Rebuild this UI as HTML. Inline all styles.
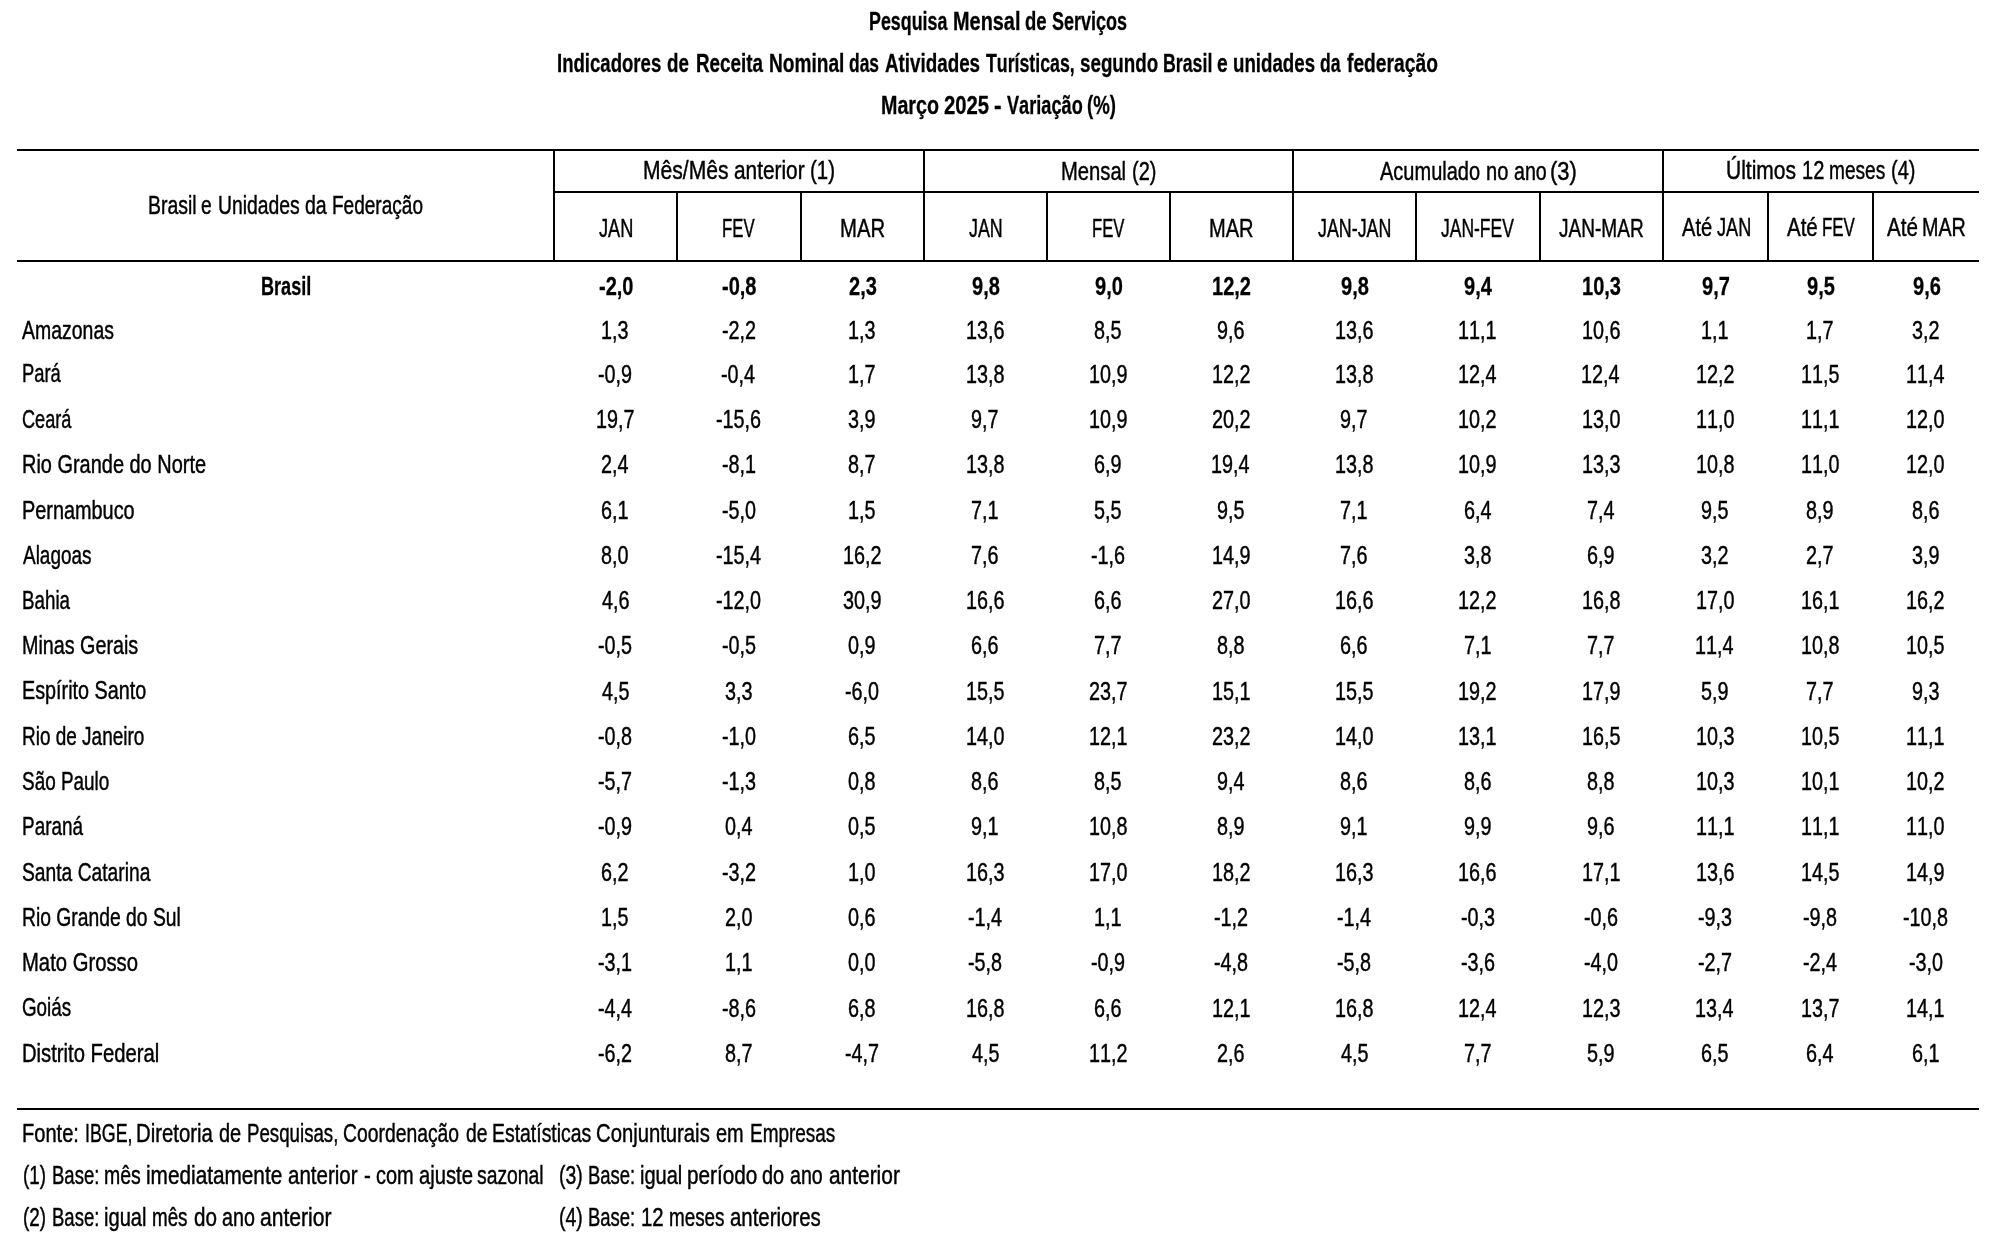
<!DOCTYPE html>
<html><head><meta charset="utf-8"><title>Pesquisa Mensal de Serviços</title><style>
html,body{margin:0;padding:0;background:#fff;width:2012px;height:1242px;overflow:hidden}
body{position:relative}
.r,.b{position:absolute;font-family:"Liberation Sans",sans-serif;font-size:25.5px;line-height:30px;white-space:nowrap;color:#000;transform-origin:0 0;font-kerning:none}
.r{-webkit-text-stroke:0.45px #000}
.b{font-weight:bold;-webkit-text-stroke:0.3px #000}
.ln{position:absolute;background:#000}
#t{position:absolute;left:0;top:0;width:2012px;height:1242px;will-change:transform}
</style></head><body>
<div class="ln" style="left:17px;top:149px;width:1962px;height:2px"></div>
<div class="ln" style="left:553px;top:191px;width:1426px;height:2px"></div>
<div class="ln" style="left:17px;top:260px;width:1962px;height:2px"></div>
<div class="ln" style="left:17px;top:1108px;width:1962px;height:2px"></div>
<div class="ln" style="left:553px;top:149px;width:2px;height:113px"></div>
<div class="ln" style="left:923px;top:149px;width:2px;height:113px"></div>
<div class="ln" style="left:1292px;top:149px;width:2px;height:113px"></div>
<div class="ln" style="left:1662px;top:149px;width:2px;height:113px"></div>
<div class="ln" style="left:676px;top:191px;width:2px;height:71px"></div>
<div class="ln" style="left:800px;top:191px;width:2px;height:71px"></div>
<div class="ln" style="left:1046px;top:191px;width:2px;height:71px"></div>
<div class="ln" style="left:1169px;top:191px;width:2px;height:71px"></div>
<div class="ln" style="left:1415px;top:191px;width:2px;height:71px"></div>
<div class="ln" style="left:1539px;top:191px;width:2px;height:71px"></div>
<div class="ln" style="left:1767px;top:191px;width:2px;height:71px"></div>
<div class="ln" style="left:1872px;top:191px;width:2px;height:71px"></div>
<div id="t">
<div class="b" style="left:869.21px;top:6px;transform:scaleX(0.7000)">Pesquisa</div>
<div class="b" style="left:953.27px;top:6px;transform:scaleX(0.7801)">Mensal</div>
<div class="b" style="left:1024.84px;top:6px;transform:scaleX(0.7256)">de</div>
<div class="b" style="left:1052.18px;top:6px;transform:scaleX(0.7059)">Serviços</div>
<div class="b" style="left:557.16px;top:48px;transform:scaleX(0.7281)">Indicadores</div>
<div class="b" style="left:667.23px;top:48px;transform:scaleX(0.7363)">de</div>
<div class="b" style="left:695.94px;top:48px;transform:scaleX(0.7390)">Receita</div>
<div class="b" style="left:768.62px;top:48px;transform:scaleX(0.7489)">Nominal</div>
<div class="b" style="left:849.39px;top:48px;transform:scaleX(0.6834)">das</div>
<div class="b" style="left:885.03px;top:48px;transform:scaleX(0.7370)">Atividades</div>
<div class="b" style="left:986.30px;top:48px;transform:scaleX(0.6953)">Turísticas,</div>
<div class="b" style="left:1079.94px;top:48px;transform:scaleX(0.7360)">segundo</div>
<div class="b" style="left:1163.31px;top:48px;transform:scaleX(0.6963)">Brasil</div>
<div class="b" style="left:1216.65px;top:48px;transform:scaleX(0.7552)">e</div>
<div class="b" style="left:1233.04px;top:48px;transform:scaleX(0.7328)">unidades</div>
<div class="b" style="left:1320.38px;top:48px;transform:scaleX(0.6892)">da</div>
<div class="b" style="left:1346.87px;top:48px;transform:scaleX(0.7543)">federação</div>
<div class="b" style="left:880.58px;top:90px;transform:scaleX(0.7721)">Março</div>
<div class="b" style="left:943.60px;top:90px;transform:scaleX(0.7962)">2025</div>
<div class="b" style="left:993.81px;top:90px;transform:scaleX(0.8958)">-</div>
<div class="b" style="left:1006.88px;top:90px;transform:scaleX(0.7123)">Variação</div>
<div class="b" style="left:1087.47px;top:90px;transform:scaleX(0.7301)">(%)</div>
<div class="r" style="left:148.21px;top:190px;transform:scaleX(0.7621)">Brasil</div>
<div class="r" style="left:201.49px;top:190px;transform:scaleX(0.7522)">e</div>
<div class="r" style="left:217.51px;top:190px;transform:scaleX(0.7582)">Unidades</div>
<div class="r" style="left:304.98px;top:190px;transform:scaleX(0.7658)">da</div>
<div class="r" style="left:332.34px;top:190px;transform:scaleX(0.7461)">Federação</div>
<div class="r" style="left:643.17px;top:155px;transform:scaleX(0.8265)">Mês/Mês</div>
<div class="r" style="left:734.32px;top:155px;transform:scaleX(0.8169)">anterior</div>
<div class="r" style="left:810.14px;top:155px;transform:scaleX(0.7999)">(1)</div>
<div class="r" style="left:1061.24px;top:156px;transform:scaleX(0.7920)">Mensal</div>
<div class="r" style="left:1131.96px;top:156px;transform:scaleX(0.7821)">(2)</div>
<div class="r" style="left:1380.06px;top:156px;transform:scaleX(0.7845)">Acumulado</div>
<div class="r" style="left:1485.66px;top:156px;transform:scaleX(0.7891)">no</div>
<div class="r" style="left:1514.07px;top:156px;transform:scaleX(0.7700)">ano</div>
<div class="r" style="left:1550.14px;top:156px;transform:scaleX(0.8606)">(3)</div>
<div class="r" style="left:1725.98px;top:155px;transform:scaleX(0.8232)">Últimos</div>
<div class="r" style="left:1801.57px;top:155px;transform:scaleX(0.7876)">12</div>
<div class="r" style="left:1829.43px;top:155px;transform:scaleX(0.7491)">meses</div>
<div class="r" style="left:1891.06px;top:155px;transform:scaleX(0.7821)">(4)</div>
<div class="r" style="left:598.62px;top:213px;transform:scaleX(0.7134)">JAN</div>
<div class="r" style="left:722.33px;top:213px;transform:scaleX(0.6563)">FEV</div>
<div class="r" style="left:839.83px;top:213px;transform:scaleX(0.7960)">MAR</div>
<div class="r" style="left:968.82px;top:213px;transform:scaleX(0.7003)">JAN</div>
<div class="r" style="left:1092.03px;top:213px;transform:scaleX(0.6542)">FEV</div>
<div class="r" style="left:1209.35px;top:213px;transform:scaleX(0.7867)">MAR</div>
<div class="r" style="left:1317.72px;top:213px;transform:scaleX(0.6995)">JAN-JAN</div>
<div class="r" style="left:1440.63px;top:213px;transform:scaleX(0.6856)">JAN-FEV</div>
<div class="r" style="left:1558.60px;top:213px;transform:scaleX(0.7472)">JAN-MAR</div>
<div class="r" style="left:1681.76px;top:212px;transform:scaleX(0.7872)">Até</div>
<div class="r" style="left:1716.72px;top:212px;transform:scaleX(0.7112)">JAN</div>
<div class="r" style="left:1786.76px;top:212px;transform:scaleX(0.8034)">Até</div>
<div class="r" style="left:1821.71px;top:212px;transform:scaleX(0.6626)">FEV</div>
<div class="r" style="left:1886.76px;top:212px;transform:scaleX(0.8088)">Até</div>
<div class="r" style="left:1922.38px;top:212px;transform:scaleX(0.7735)">MAR</div>
<div class="b" style="left:260.89px;top:271px;transform:scaleX(0.7096)">Brasil</div>
<div class="b" style="left:598.67px;top:271px;transform:scaleX(0.7850)">-2,0</div>
<div class="b" style="left:722.07px;top:271px;transform:scaleX(0.7850)">-0,8</div>
<div class="b" style="left:849.00px;top:271px;transform:scaleX(0.7850)">2,3</div>
<div class="b" style="left:971.95px;top:271px;transform:scaleX(0.7850)">9,8</div>
<div class="b" style="left:1095.05px;top:271px;transform:scaleX(0.7850)">9,0</div>
<div class="b" style="left:1212.19px;top:271px;transform:scaleX(0.7850)">12,2</div>
<div class="b" style="left:1340.95px;top:271px;transform:scaleX(0.7850)">9,8</div>
<div class="b" style="left:1464.19px;top:271px;transform:scaleX(0.7850)">9,4</div>
<div class="b" style="left:1582.15px;top:271px;transform:scaleX(0.7850)">10,3</div>
<div class="b" style="left:1702.08px;top:271px;transform:scaleX(0.7850)">9,7</div>
<div class="b" style="left:1806.92px;top:271px;transform:scaleX(0.7850)">9,5</div>
<div class="b" style="left:1912.50px;top:271px;transform:scaleX(0.7850)">9,6</div>
<div class="r" style="left:22.36px;top:315px;transform:scaleX(0.7631)">Amazonas</div>
<div class="r" style="left:601.05px;top:315px;transform:scaleX(0.7750)">1,3</div>
<div class="r" style="left:721.63px;top:315px;transform:scaleX(0.7750)">-2,2</div>
<div class="r" style="left:848.05px;top:315px;transform:scaleX(0.7750)">1,3</div>
<div class="r" style="left:965.55px;top:315px;transform:scaleX(0.7750)">13,6</div>
<div class="r" style="left:1094.35px;top:315px;transform:scaleX(0.7750)">8,5</div>
<div class="r" style="left:1217.33px;top:315px;transform:scaleX(0.7750)">9,6</div>
<div class="r" style="left:1334.55px;top:315px;transform:scaleX(0.7750)">13,6</div>
<div class="r" style="left:1458.10px;top:315px;transform:scaleX(0.7750)">11,1</div>
<div class="r" style="left:1581.55px;top:315px;transform:scaleX(0.7750)">10,6</div>
<div class="r" style="left:1701.09px;top:315px;transform:scaleX(0.7750)">1,1</div>
<div class="r" style="left:1806.11px;top:315px;transform:scaleX(0.7750)">1,7</div>
<div class="r" style="left:1911.98px;top:315px;transform:scaleX(0.7750)">3,2</div>
<div class="r" style="left:21.79px;top:358px;transform:scaleX(0.7205)">Pará</div>
<div class="r" style="left:598.10px;top:359px;transform:scaleX(0.7750)">-0,9</div>
<div class="r" style="left:721.42px;top:359px;transform:scaleX(0.7750)">-0,4</div>
<div class="r" style="left:848.11px;top:359px;transform:scaleX(0.7750)">1,7</div>
<div class="r" style="left:965.54px;top:359px;transform:scaleX(0.7750)">13,8</div>
<div class="r" style="left:1088.58px;top:359px;transform:scaleX(0.7750)">10,9</div>
<div class="r" style="left:1211.61px;top:359px;transform:scaleX(0.7750)">12,2</div>
<div class="r" style="left:1334.54px;top:359px;transform:scaleX(0.7750)">13,8</div>
<div class="r" style="left:1457.91px;top:359px;transform:scaleX(0.7750)">12,4</div>
<div class="r" style="left:1581.41px;top:359px;transform:scaleX(0.7750)">12,4</div>
<div class="r" style="left:1695.61px;top:359px;transform:scaleX(0.7750)">12,2</div>
<div class="r" style="left:1800.53px;top:359px;transform:scaleX(0.7750)">11,5</div>
<div class="r" style="left:1905.91px;top:359px;transform:scaleX(0.7750)">11,4</div>
<div class="r" style="left:22.38px;top:404px;transform:scaleX(0.7116)">Ceará</div>
<div class="r" style="left:595.61px;top:404px;transform:scaleX(0.7750)">19,7</div>
<div class="r" style="left:716.07px;top:404px;transform:scaleX(0.7750)">-15,6</div>
<div class="r" style="left:848.46px;top:404px;transform:scaleX(0.7750)">3,9</div>
<div class="r" style="left:971.40px;top:404px;transform:scaleX(0.7750)">9,7</div>
<div class="r" style="left:1088.58px;top:404px;transform:scaleX(0.7750)">10,9</div>
<div class="r" style="left:1211.87px;top:404px;transform:scaleX(0.7750)">20,2</div>
<div class="r" style="left:1340.40px;top:404px;transform:scaleX(0.7750)">9,7</div>
<div class="r" style="left:1458.11px;top:404px;transform:scaleX(0.7750)">10,2</div>
<div class="r" style="left:1581.50px;top:404px;transform:scaleX(0.7750)">13,0</div>
<div class="r" style="left:1695.50px;top:404px;transform:scaleX(0.7750)">11,0</div>
<div class="r" style="left:1800.60px;top:404px;transform:scaleX(0.7750)">11,1</div>
<div class="r" style="left:1906.00px;top:404px;transform:scaleX(0.7750)">12,0</div>
<div class="r" style="left:21.66px;top:449px;transform:scaleX(0.7821)">Rio Grande do Norte</div>
<div class="r" style="left:601.16px;top:449px;transform:scaleX(0.7750)">2,4</div>
<div class="r" style="left:721.62px;top:449px;transform:scaleX(0.7750)">-8,1</div>
<div class="r" style="left:848.43px;top:449px;transform:scaleX(0.7750)">8,7</div>
<div class="r" style="left:965.54px;top:449px;transform:scaleX(0.7750)">13,8</div>
<div class="r" style="left:1094.33px;top:449px;transform:scaleX(0.7750)">6,9</div>
<div class="r" style="left:1211.41px;top:449px;transform:scaleX(0.7750)">19,4</div>
<div class="r" style="left:1334.54px;top:449px;transform:scaleX(0.7750)">13,8</div>
<div class="r" style="left:1458.08px;top:449px;transform:scaleX(0.7750)">10,9</div>
<div class="r" style="left:1581.55px;top:449px;transform:scaleX(0.7750)">13,3</div>
<div class="r" style="left:1695.54px;top:449px;transform:scaleX(0.7750)">10,8</div>
<div class="r" style="left:1800.50px;top:449px;transform:scaleX(0.7750)">11,0</div>
<div class="r" style="left:1906.00px;top:449px;transform:scaleX(0.7750)">12,0</div>
<div class="r" style="left:21.67px;top:495px;transform:scaleX(0.7792)">Pernambuco</div>
<div class="r" style="left:601.34px;top:495px;transform:scaleX(0.7750)">6,1</div>
<div class="r" style="left:721.52px;top:495px;transform:scaleX(0.7750)">-5,0</div>
<div class="r" style="left:848.03px;top:495px;transform:scaleX(0.7750)">1,5</div>
<div class="r" style="left:971.34px;top:495px;transform:scaleX(0.7750)">7,1</div>
<div class="r" style="left:1094.38px;top:495px;transform:scaleX(0.7750)">5,5</div>
<div class="r" style="left:1217.32px;top:495px;transform:scaleX(0.7750)">9,5</div>
<div class="r" style="left:1340.34px;top:495px;transform:scaleX(0.7750)">7,1</div>
<div class="r" style="left:1463.65px;top:495px;transform:scaleX(0.7750)">6,4</div>
<div class="r" style="left:1587.15px;top:495px;transform:scaleX(0.7750)">7,4</div>
<div class="r" style="left:1701.32px;top:495px;transform:scaleX(0.7750)">9,5</div>
<div class="r" style="left:1806.40px;top:495px;transform:scaleX(0.7750)">8,9</div>
<div class="r" style="left:1911.87px;top:495px;transform:scaleX(0.7750)">8,6</div>
<div class="r" style="left:22.56px;top:540px;transform:scaleX(0.7436)">Alagoas</div>
<div class="r" style="left:601.32px;top:540px;transform:scaleX(0.7750)">8,0</div>
<div class="r" style="left:715.93px;top:540px;transform:scaleX(0.7750)">-15,4</div>
<div class="r" style="left:842.61px;top:540px;transform:scaleX(0.7750)">16,2</div>
<div class="r" style="left:971.29px;top:540px;transform:scaleX(0.7750)">7,6</div>
<div class="r" style="left:1091.07px;top:540px;transform:scaleX(0.7750)">-1,6</div>
<div class="r" style="left:1211.58px;top:540px;transform:scaleX(0.7750)">14,9</div>
<div class="r" style="left:1340.29px;top:540px;transform:scaleX(0.7750)">7,6</div>
<div class="r" style="left:1463.92px;top:540px;transform:scaleX(0.7750)">3,8</div>
<div class="r" style="left:1587.33px;top:540px;transform:scaleX(0.7750)">6,9</div>
<div class="r" style="left:1701.48px;top:540px;transform:scaleX(0.7750)">3,2</div>
<div class="r" style="left:1806.36px;top:540px;transform:scaleX(0.7750)">2,7</div>
<div class="r" style="left:1911.96px;top:540px;transform:scaleX(0.7750)">3,9</div>
<div class="r" style="left:21.76px;top:585px;transform:scaleX(0.7366)">Bahia</div>
<div class="r" style="left:601.57px;top:585px;transform:scaleX(0.7750)">4,6</div>
<div class="r" style="left:716.02px;top:585px;transform:scaleX(0.7750)">-12,0</div>
<div class="r" style="left:842.96px;top:585px;transform:scaleX(0.7750)">30,9</div>
<div class="r" style="left:965.55px;top:585px;transform:scaleX(0.7750)">16,6</div>
<div class="r" style="left:1094.30px;top:585px;transform:scaleX(0.7750)">6,6</div>
<div class="r" style="left:1211.76px;top:585px;transform:scaleX(0.7750)">27,0</div>
<div class="r" style="left:1334.55px;top:585px;transform:scaleX(0.7750)">16,6</div>
<div class="r" style="left:1458.11px;top:585px;transform:scaleX(0.7750)">12,2</div>
<div class="r" style="left:1581.54px;top:585px;transform:scaleX(0.7750)">16,8</div>
<div class="r" style="left:1695.50px;top:585px;transform:scaleX(0.7750)">17,0</div>
<div class="r" style="left:1800.60px;top:585px;transform:scaleX(0.7750)">16,1</div>
<div class="r" style="left:1906.11px;top:585px;transform:scaleX(0.7750)">16,2</div>
<div class="r" style="left:21.68px;top:630px;transform:scaleX(0.7738)">Minas Gerais</div>
<div class="r" style="left:598.05px;top:630px;transform:scaleX(0.7750)">-0,5</div>
<div class="r" style="left:721.55px;top:630px;transform:scaleX(0.7750)">-0,5</div>
<div class="r" style="left:848.45px;top:630px;transform:scaleX(0.7750)">0,9</div>
<div class="r" style="left:971.30px;top:630px;transform:scaleX(0.7750)">6,6</div>
<div class="r" style="left:1094.35px;top:630px;transform:scaleX(0.7750)">7,7</div>
<div class="r" style="left:1217.36px;top:630px;transform:scaleX(0.7750)">8,8</div>
<div class="r" style="left:1340.30px;top:630px;transform:scaleX(0.7750)">6,6</div>
<div class="r" style="left:1463.84px;top:630px;transform:scaleX(0.7750)">7,1</div>
<div class="r" style="left:1587.35px;top:630px;transform:scaleX(0.7750)">7,7</div>
<div class="r" style="left:1695.41px;top:630px;transform:scaleX(0.7750)">11,4</div>
<div class="r" style="left:1800.54px;top:630px;transform:scaleX(0.7750)">10,8</div>
<div class="r" style="left:1906.03px;top:630px;transform:scaleX(0.7750)">10,5</div>
<div class="r" style="left:22.08px;top:675px;transform:scaleX(0.7751)">Espírito Santo</div>
<div class="r" style="left:601.55px;top:676px;transform:scaleX(0.7750)">4,5</div>
<div class="r" style="left:724.92px;top:676px;transform:scaleX(0.7750)">3,3</div>
<div class="r" style="left:845.02px;top:676px;transform:scaleX(0.7750)">-6,0</div>
<div class="r" style="left:965.53px;top:676px;transform:scaleX(0.7750)">15,5</div>
<div class="r" style="left:1088.87px;top:676px;transform:scaleX(0.7750)">23,7</div>
<div class="r" style="left:1211.60px;top:676px;transform:scaleX(0.7750)">15,1</div>
<div class="r" style="left:1334.53px;top:676px;transform:scaleX(0.7750)">15,5</div>
<div class="r" style="left:1458.11px;top:676px;transform:scaleX(0.7750)">19,2</div>
<div class="r" style="left:1581.58px;top:676px;transform:scaleX(0.7750)">17,9</div>
<div class="r" style="left:1701.44px;top:676px;transform:scaleX(0.7750)">5,9</div>
<div class="r" style="left:1806.35px;top:676px;transform:scaleX(0.7750)">7,7</div>
<div class="r" style="left:1911.83px;top:676px;transform:scaleX(0.7750)">9,3</div>
<div class="r" style="left:22.14px;top:721px;transform:scaleX(0.7441)">Rio de Janeiro</div>
<div class="r" style="left:598.06px;top:721px;transform:scaleX(0.7750)">-0,8</div>
<div class="r" style="left:721.52px;top:721px;transform:scaleX(0.7750)">-1,0</div>
<div class="r" style="left:848.28px;top:721px;transform:scaleX(0.7750)">6,5</div>
<div class="r" style="left:965.50px;top:721px;transform:scaleX(0.7750)">14,0</div>
<div class="r" style="left:1088.60px;top:721px;transform:scaleX(0.7750)">12,1</div>
<div class="r" style="left:1211.87px;top:721px;transform:scaleX(0.7750)">23,2</div>
<div class="r" style="left:1334.50px;top:721px;transform:scaleX(0.7750)">14,0</div>
<div class="r" style="left:1458.10px;top:721px;transform:scaleX(0.7750)">13,1</div>
<div class="r" style="left:1581.53px;top:721px;transform:scaleX(0.7750)">16,5</div>
<div class="r" style="left:1695.55px;top:721px;transform:scaleX(0.7750)">10,3</div>
<div class="r" style="left:1800.53px;top:721px;transform:scaleX(0.7750)">10,5</div>
<div class="r" style="left:1906.10px;top:721px;transform:scaleX(0.7750)">11,1</div>
<div class="r" style="left:21.74px;top:766px;transform:scaleX(0.7423)">São Paulo</div>
<div class="r" style="left:598.13px;top:766px;transform:scaleX(0.7750)">-5,7</div>
<div class="r" style="left:721.57px;top:766px;transform:scaleX(0.7750)">-1,3</div>
<div class="r" style="left:848.41px;top:766px;transform:scaleX(0.7750)">0,8</div>
<div class="r" style="left:971.37px;top:766px;transform:scaleX(0.7750)">8,6</div>
<div class="r" style="left:1094.35px;top:766px;transform:scaleX(0.7750)">8,5</div>
<div class="r" style="left:1217.19px;top:766px;transform:scaleX(0.7750)">9,4</div>
<div class="r" style="left:1340.37px;top:766px;transform:scaleX(0.7750)">8,6</div>
<div class="r" style="left:1463.87px;top:766px;transform:scaleX(0.7750)">8,6</div>
<div class="r" style="left:1587.36px;top:766px;transform:scaleX(0.7750)">8,8</div>
<div class="r" style="left:1695.55px;top:766px;transform:scaleX(0.7750)">10,3</div>
<div class="r" style="left:1800.60px;top:766px;transform:scaleX(0.7750)">10,1</div>
<div class="r" style="left:1906.11px;top:766px;transform:scaleX(0.7750)">10,2</div>
<div class="r" style="left:21.85px;top:811px;transform:scaleX(0.7425)">Paraná</div>
<div class="r" style="left:598.10px;top:811px;transform:scaleX(0.7750)">-0,9</div>
<div class="r" style="left:724.77px;top:811px;transform:scaleX(0.7750)">0,4</div>
<div class="r" style="left:848.39px;top:811px;transform:scaleX(0.7750)">0,5</div>
<div class="r" style="left:971.38px;top:811px;transform:scaleX(0.7750)">9,1</div>
<div class="r" style="left:1088.54px;top:811px;transform:scaleX(0.7750)">10,8</div>
<div class="r" style="left:1217.40px;top:811px;transform:scaleX(0.7750)">8,9</div>
<div class="r" style="left:1340.38px;top:811px;transform:scaleX(0.7750)">9,1</div>
<div class="r" style="left:1463.87px;top:811px;transform:scaleX(0.7750)">9,9</div>
<div class="r" style="left:1587.33px;top:811px;transform:scaleX(0.7750)">9,6</div>
<div class="r" style="left:1695.60px;top:811px;transform:scaleX(0.7750)">11,1</div>
<div class="r" style="left:1800.60px;top:811px;transform:scaleX(0.7750)">11,1</div>
<div class="r" style="left:1906.00px;top:811px;transform:scaleX(0.7750)">11,0</div>
<div class="r" style="left:21.73px;top:857px;transform:scaleX(0.7547)">Santa Catarina</div>
<div class="r" style="left:601.36px;top:857px;transform:scaleX(0.7750)">6,2</div>
<div class="r" style="left:721.63px;top:857px;transform:scaleX(0.7750)">-3,2</div>
<div class="r" style="left:848.00px;top:857px;transform:scaleX(0.7750)">1,0</div>
<div class="r" style="left:965.55px;top:857px;transform:scaleX(0.7750)">16,3</div>
<div class="r" style="left:1088.50px;top:857px;transform:scaleX(0.7750)">17,0</div>
<div class="r" style="left:1211.61px;top:857px;transform:scaleX(0.7750)">18,2</div>
<div class="r" style="left:1334.55px;top:857px;transform:scaleX(0.7750)">16,3</div>
<div class="r" style="left:1458.05px;top:857px;transform:scaleX(0.7750)">16,6</div>
<div class="r" style="left:1581.60px;top:857px;transform:scaleX(0.7750)">17,1</div>
<div class="r" style="left:1695.55px;top:857px;transform:scaleX(0.7750)">13,6</div>
<div class="r" style="left:1800.53px;top:857px;transform:scaleX(0.7750)">14,5</div>
<div class="r" style="left:1906.08px;top:857px;transform:scaleX(0.7750)">14,9</div>
<div class="r" style="left:21.82px;top:902px;transform:scaleX(0.7568)">Rio Grande do Sul</div>
<div class="r" style="left:601.03px;top:902px;transform:scaleX(0.7750)">1,5</div>
<div class="r" style="left:724.75px;top:902px;transform:scaleX(0.7750)">2,0</div>
<div class="r" style="left:848.41px;top:902px;transform:scaleX(0.7750)">0,6</div>
<div class="r" style="left:967.92px;top:902px;transform:scaleX(0.7750)">-1,4</div>
<div class="r" style="left:1094.09px;top:902px;transform:scaleX(0.7750)">1,1</div>
<div class="r" style="left:1214.13px;top:902px;transform:scaleX(0.7750)">-1,2</div>
<div class="r" style="left:1336.92px;top:902px;transform:scaleX(0.7750)">-1,4</div>
<div class="r" style="left:1460.57px;top:902px;transform:scaleX(0.7750)">-0,3</div>
<div class="r" style="left:1584.07px;top:902px;transform:scaleX(0.7750)">-0,6</div>
<div class="r" style="left:1698.07px;top:902px;transform:scaleX(0.7750)">-9,3</div>
<div class="r" style="left:1803.06px;top:902px;transform:scaleX(0.7750)">-9,8</div>
<div class="r" style="left:1903.07px;top:902px;transform:scaleX(0.7750)">-10,8</div>
<div class="r" style="left:21.74px;top:947px;transform:scaleX(0.7941)">Mato Grosso</div>
<div class="r" style="left:598.12px;top:947px;transform:scaleX(0.7750)">-3,1</div>
<div class="r" style="left:724.59px;top:947px;transform:scaleX(0.7750)">1,1</div>
<div class="r" style="left:848.36px;top:947px;transform:scaleX(0.7750)">0,0</div>
<div class="r" style="left:968.06px;top:947px;transform:scaleX(0.7750)">-5,8</div>
<div class="r" style="left:1091.10px;top:947px;transform:scaleX(0.7750)">-0,9</div>
<div class="r" style="left:1214.06px;top:947px;transform:scaleX(0.7750)">-4,8</div>
<div class="r" style="left:1337.06px;top:947px;transform:scaleX(0.7750)">-5,8</div>
<div class="r" style="left:1460.57px;top:947px;transform:scaleX(0.7750)">-3,6</div>
<div class="r" style="left:1584.02px;top:947px;transform:scaleX(0.7750)">-4,0</div>
<div class="r" style="left:1698.13px;top:947px;transform:scaleX(0.7750)">-2,7</div>
<div class="r" style="left:1802.92px;top:947px;transform:scaleX(0.7750)">-2,4</div>
<div class="r" style="left:1908.52px;top:947px;transform:scaleX(0.7750)">-3,0</div>
<div class="r" style="left:22.46px;top:992px;transform:scaleX(0.7359)">Goiás</div>
<div class="r" style="left:597.92px;top:993px;transform:scaleX(0.7750)">-4,4</div>
<div class="r" style="left:721.57px;top:993px;transform:scaleX(0.7750)">-8,6</div>
<div class="r" style="left:848.29px;top:993px;transform:scaleX(0.7750)">6,8</div>
<div class="r" style="left:965.54px;top:993px;transform:scaleX(0.7750)">16,8</div>
<div class="r" style="left:1094.30px;top:993px;transform:scaleX(0.7750)">6,6</div>
<div class="r" style="left:1211.60px;top:993px;transform:scaleX(0.7750)">12,1</div>
<div class="r" style="left:1334.54px;top:993px;transform:scaleX(0.7750)">16,8</div>
<div class="r" style="left:1457.91px;top:993px;transform:scaleX(0.7750)">12,4</div>
<div class="r" style="left:1581.55px;top:993px;transform:scaleX(0.7750)">12,3</div>
<div class="r" style="left:1695.41px;top:993px;transform:scaleX(0.7750)">13,4</div>
<div class="r" style="left:1800.61px;top:993px;transform:scaleX(0.7750)">13,7</div>
<div class="r" style="left:1906.10px;top:993px;transform:scaleX(0.7750)">14,1</div>
<div class="r" style="left:21.74px;top:1038px;transform:scaleX(0.7937)">Distrito Federal</div>
<div class="r" style="left:598.13px;top:1038px;transform:scaleX(0.7750)">-6,2</div>
<div class="r" style="left:724.93px;top:1038px;transform:scaleX(0.7750)">8,7</div>
<div class="r" style="left:845.13px;top:1038px;transform:scaleX(0.7750)">-4,7</div>
<div class="r" style="left:971.55px;top:1038px;transform:scaleX(0.7750)">4,5</div>
<div class="r" style="left:1088.61px;top:1038px;transform:scaleX(0.7750)">11,2</div>
<div class="r" style="left:1217.30px;top:1038px;transform:scaleX(0.7750)">2,6</div>
<div class="r" style="left:1340.55px;top:1038px;transform:scaleX(0.7750)">4,5</div>
<div class="r" style="left:1463.85px;top:1038px;transform:scaleX(0.7750)">7,7</div>
<div class="r" style="left:1587.44px;top:1038px;transform:scaleX(0.7750)">5,9</div>
<div class="r" style="left:1701.28px;top:1038px;transform:scaleX(0.7750)">6,5</div>
<div class="r" style="left:1806.15px;top:1038px;transform:scaleX(0.7750)">6,4</div>
<div class="r" style="left:1911.84px;top:1038px;transform:scaleX(0.7750)">6,1</div>
<div class="r" style="left:22.35px;top:1118px;transform:scaleX(0.7868)">Fonte:</div>
<div class="r" style="left:84.66px;top:1118px;transform:scaleX(0.6974)">IBGE,</div>
<div class="r" style="left:136.23px;top:1118px;transform:scaleX(0.7977)">Diretoria</div>
<div class="r" style="left:219.06px;top:1118px;transform:scaleX(0.7836)">de</div>
<div class="r" style="left:246.57px;top:1118px;transform:scaleX(0.7328)">Pesquisas,</div>
<div class="r" style="left:343.42px;top:1118px;transform:scaleX(0.7582)">Coordenação</div>
<div class="r" style="left:465.69px;top:1118px;transform:scaleX(0.7569)">de</div>
<div class="r" style="left:491.91px;top:1118px;transform:scaleX(0.7616)">Estatísticas</div>
<div class="r" style="left:596.27px;top:1118px;transform:scaleX(0.7946)">Conjunturais</div>
<div class="r" style="left:716.15px;top:1118px;transform:scaleX(0.7808)">em</div>
<div class="r" style="left:749.64px;top:1118px;transform:scaleX(0.7435)">Empresas</div>
<div class="r" style="left:22.83px;top:1160px;transform:scaleX(0.7392)">(1)</div>
<div class="r" style="left:51.88px;top:1160px;transform:scaleX(0.7255)">Base:</div>
<div class="r" style="left:104.31px;top:1160px;transform:scaleX(0.7638)">mês</div>
<div class="r" style="left:146.41px;top:1160px;transform:scaleX(0.8144)">imediatamente</div>
<div class="r" style="left:287.63px;top:1160px;transform:scaleX(0.8051)">anterior</div>
<div class="r" style="left:363.99px;top:1160px;transform:scaleX(0.8031)">-</div>
<div class="r" style="left:375.85px;top:1160px;transform:scaleX(0.7818)">com</div>
<div class="r" style="left:419.34px;top:1160px;transform:scaleX(0.7930)">ajuste</div>
<div class="r" style="left:477.26px;top:1160px;transform:scaleX(0.7581)">sazonal</div>
<div class="r" style="left:22.83px;top:1202px;transform:scaleX(0.7392)">(2)</div>
<div class="r" style="left:51.88px;top:1202px;transform:scaleX(0.7255)">Base:</div>
<div class="r" style="left:104.25px;top:1202px;transform:scaleX(0.7887)">igual</div>
<div class="r" style="left:152.15px;top:1202px;transform:scaleX(0.7375)">mês</div>
<div class="r" style="left:193.53px;top:1202px;transform:scaleX(0.8085)">do</div>
<div class="r" style="left:222.16px;top:1202px;transform:scaleX(0.7724)">ano</div>
<div class="r" style="left:260.30px;top:1202px;transform:scaleX(0.8275)">anterior</div>
<div class="r" style="left:558.80px;top:1160px;transform:scaleX(0.7606)">(3)</div>
<div class="r" style="left:587.99px;top:1160px;transform:scaleX(0.7238)">Base:</div>
<div class="r" style="left:640.06px;top:1160px;transform:scaleX(0.7847)">igual</div>
<div class="r" style="left:686.96px;top:1160px;transform:scaleX(0.8129)">período</div>
<div class="r" style="left:762.36px;top:1160px;transform:scaleX(0.7818)">do</div>
<div class="r" style="left:790.27px;top:1160px;transform:scaleX(0.7700)">ano</div>
<div class="r" style="left:828.81px;top:1160px;transform:scaleX(0.8193)">anterior</div>
<div class="r" style="left:558.80px;top:1202px;transform:scaleX(0.7606)">(4)</div>
<div class="r" style="left:587.99px;top:1202px;transform:scaleX(0.7238)">Base:</div>
<div class="r" style="left:640.55px;top:1202px;transform:scaleX(0.7996)">12</div>
<div class="r" style="left:668.65px;top:1202px;transform:scaleX(0.7394)">meses</div>
<div class="r" style="left:729.53px;top:1202px;transform:scaleX(0.7999)">anteriores</div>
</div>
</body></html>
